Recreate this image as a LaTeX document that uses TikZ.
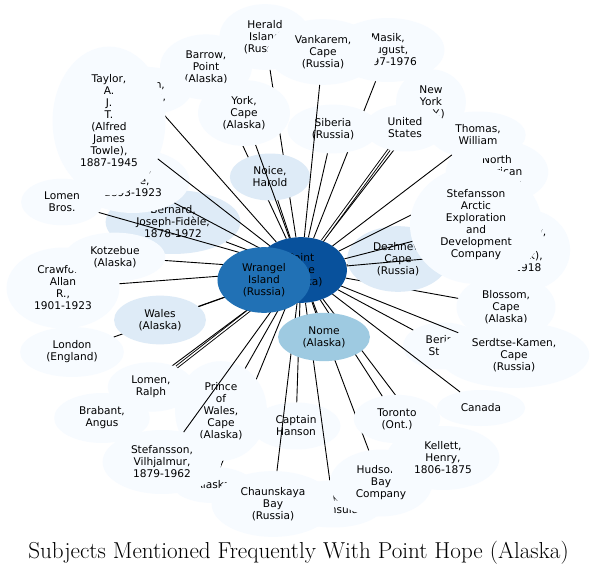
\documentclass[tikz,border=0pt]{standalone}
\usepackage{fontspec}
\newfontfamily\gvfont{DejaVu Sans}
\usetikzlibrary{shapes.geometric}
\definecolor{pale}{HTML}{F7FBFF}
\definecolor{tint}{HTML}{DEEBF7}
\definecolor{mid}{HTML}{9ECAE1}
\definecolor{deep}{HTML}{2171B5}
\definecolor{core}{HTML}{08519C}
\tikzset{
	subject/.style={
		ellipse, fill=pale, align=center,
		inner xsep=11pt, inner ysep=6.5pt,
		minimum width=54pt, minimum height=36pt,
		font=\gvfont\fontsize{10.6}{12}\selectfont
	},
	frequent/.style={subject, fill=tint},
	link/.style={draw=black, line width=0.9pt},
	twolink/.style={link, double=white, double distance=1.4pt}
}

\begin{document}
\begin{tikzpicture}[x=1pt, y=-1pt]
				\fill[white] (0,0) rectangle (597,575);
				\useasboundingbox (0,0) rectangle (597,575);
				% centre first, every other subject is drawn with its link
				\node[subject, fill=core] (hope) at (301,270) {Point\\Hope\\(Alaska)};
				\node[subject] (alaska) at (213,485) {Alaska};
				\draw[link] (hope) -- (alaska);
				\node[subject] (barrow) at (206,67) {Barrow,\\Point\\(Alaska)};
				\draw[link] (hope) -- (barrow);
				\node[subject] (bering) at (443,346) {Bering\\Strait};
				\draw[link] (hope) -- (bering);
				\node[frequent] (bernard) at (173,222) {Bernard,\\Joseph-Fidèle,\\1878-1972};
				\draw[link] (hope) -- (bernard);
				\node[subject] (blossom) at (506,307) {Blossom,\\Cape\\(Alaska)};
				\draw[link] (hope) -- (blossom);
				\node[subject] (brabant) at (102,418) {Brabant,\\Angus};
				\draw[link] (hope) -- (brabant);
				\node[subject] (canada) at (481,408) {Canada};
				\draw[link] (hope) -- (canada);
				\node[subject] (hanson) at (296,426) {Captain\\Hanson};
				\draw[link] (hope) -- (hanson);
				\node[subject] (chukchi) at (333,504) {Chukchi\\Peninsula};
				\draw[link] (hope) -- (chukchi);
				\node[subject] (chaunskaya) at (273,504) {Chaunskaya\\Bay\\(Russia)};
				\draw[link] (hope) -- (chaunskaya);
				\node[subject] (crawford) at (63,288) {Crawford,\\Allan\\R.,\\1901-1923};
				\draw[link] (hope) -- (crawford);
				\node[frequent] (dezhnev) at (398,259) {Dezhnev,\\Cape\\(Russia)};
				\draw[link] (hope) -- (dezhnev);
				\node[subject] (hadley) at (526,250) {Hadley,\\John\\(Jack),\\-1918};
				\draw[link] (hope) -- (hadley);
				\node[subject] (herald) at (265,37) {Herald\\Island\\(Russia)};
				\draw[link] (hope) -- (herald);
				\node[subject] (hudson) at (381,483) {Hudson's\\Bay\\Company};
				\draw[link] (hope) -- (hudson);
				\node[subject] (jackson) at (143,91) {Jackson,\\Sheldon,};
				\draw[link] (hope) -- (jackson);
				\node[subject] (kellett) at (443,458) {Kellett,\\Henry,\\1806-1875};
				\draw[link] (hope) -- (kellett);
				\node[subject] (knight) at (133,181) {Knight,\\Lorne,\\1893-1923};
				\draw[link] (hope) -- (knight);
				\node[subject] (kotzebue) at (115,257) {Kotzebue\\(Alaska)};
				\draw[link] (hope) -- (kotzebue);
				\node[subject] (lomenbros) at (62,202) {Lomen\\Bros.};
				\draw[link] (hope) -- (lomenbros);
				\node[subject] (lomenralph) at (151,387) {Lomen,\\Ralph};
				\draw[twolink] (hope) -- (lomenralph);
				\node[subject] (london) at (72,352) {London\\(England)};
				\draw[link] (hope) -- (london);
				\node[subject] (masik) at (388,50) {Masik,\\August,\\1897-1976};
				\draw[link] (hope) -- (masik);
				\node[subject] (newyork) at (431,102) {New\\York\\(N.Y.)};
				\draw[link] (hope) -- (newyork);
				\node[frequent] (noice) at (270,177) {Noice,\\Harold};
				\draw[link] (hope) -- (noice);
				\node[subject] (northam) at (497,172) {North\\American\\Reindeer};
				\draw[link] (hope) -- (northam);
				\node[subject] (prince) at (221,411) {Prince\\of\\Wales,\\Cape\\(Alaska)};
				\draw[link] (hope) -- (prince);
				\node[subject] (serdtse) at (514,355) {Serdtse-Kamen,\\Cape\\(Russia)};
				\draw[link] (hope) -- (serdtse);
				\node[subject] (siberia) at (333,129) {Siberia\\(Russia)};
				\draw[link] (hope) -- (siberia);
				\node[subject] (stefarctic) at (476,225) {Stefansson\\Arctic\\Exploration\\and\\Development\\Company};
				\draw[link] (hope) -- (stefarctic);
				\node[subject] (stefv) at (162,462) {Stefansson,\\Vilhjalmur,\\1879-1962};
				\draw[link] (hope) -- (stefv);
				\node[subject] (taylor) at (109,121) {Taylor,\\A.\\J.\\T.\\(Alfred\\James\\Towle),\\1887-1945};
				\draw[link] (hope) -- (taylor);
				\node[subject] (thomas) at (478,135) {Thomas,\\William};
				\draw[link] (hope) -- (thomas);
				\node[subject] (toronto) at (397,419) {Toronto\\(Ont.)};
				\draw[link] (hope) -- (toronto);
				\node[subject] (us) at (405,128) {United\\States};
				\draw[twolink] (hope) -- (us);
				\node[subject] (vankarem) at (323,52) {Vankarem,\\Cape\\(Russia)};
				\draw[link] (hope) -- (vankarem);
				\node[frequent] (wales) at (160,320) {Wales\\(Alaska)};
				\draw[link] (hope) -- (wales);
				\node[subject] (york) at (244,113) {York,\\Cape\\(Alaska)};
				\draw[link] (hope) -- (york);
				\node[subject, fill=mid] (nome) at (324,337) {Nome\\(Alaska)};
				\draw[link] (hope) -- (nome);
				\node[subject, fill=deep] (wrangel) at (264,280) {Wrangel\\Island\\(Russia)};
				% title
				\node (title) at (298.5,553) {\fontsize{23.1}{27}\selectfont Subjects Mentioned Frequently With Point Hope (Alaska)};
\end{tikzpicture}
\end{document}
